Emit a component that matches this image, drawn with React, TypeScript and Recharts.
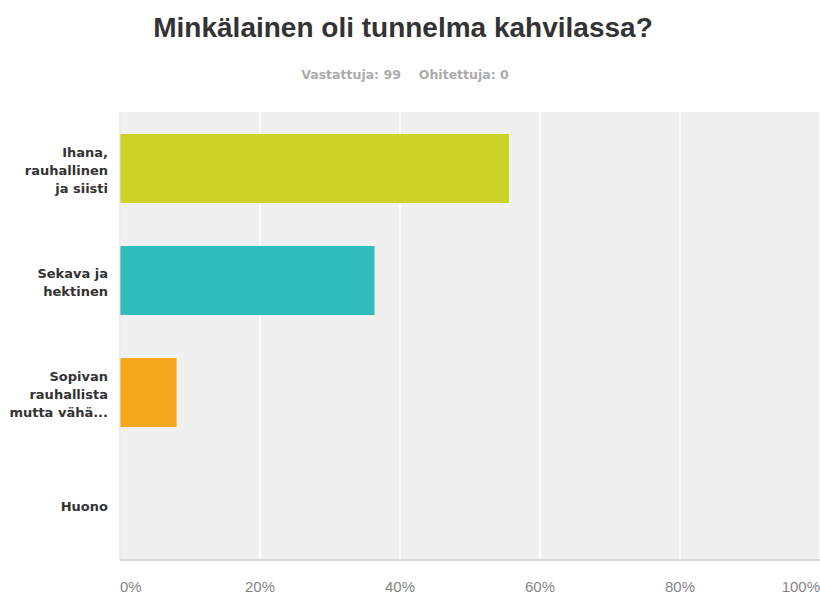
import React from "react";
import { BarChart, Bar, XAxis, YAxis, CartesianGrid, Cell } from "recharts";

const TITLE = "Minkälainen oli tunnelma kahvilassa?";
const SUB_ANSWERED = "Vastattuja: 99";
const SUB_SKIPPED = "Ohitettuja: 0";

const categories = [
  "Ihana, rauhallinen ja siisti",
  "Sekava ja hektinen",
  "Sopivan rauhallista mutta vähä...",
  "Huono",
];
const percentages = [55.56, 36.36, 8.08, 0];
const barColors = ["#cbd325", "#32bdbd", "#f6a81d", "#999999"];
const xTicks = [0, 20, 40, 60, 80, 100];

const data = categories.map((name, i) => ({ name, value: percentages[i] }));

const W = 820;
const H = 594;

function wrap(label: string, maxChars: number): string[] {
  const words = label.split(" ");
  const lines: string[] = [];
  let cur = "";
  for (const w of words) {
    const next = cur ? cur + " " + w : w;
    if (next.length > maxChars && cur) {
      lines.push(cur);
      cur = w;
    } else {
      cur = next;
    }
  }
  if (cur) lines.push(cur);
  return lines;
}

const YTick = (props: any) => {
  const { y, payload } = props;
  const lines = wrap(String(payload.value), 13);
  const lh = 18;
  const first = y - ((lines.length - 1) * lh) / 2 + 7;
  return (
    <text
      textAnchor="end"
      fontFamily="'DejaVu Sans', sans-serif"
      fontWeight="bold"
      fontSize={13}
      fill="#333333"
    >
      {lines.map((l, i) => (
        <tspan key={i} x={108} y={first + i * lh}>
          {l}
        </tspan>
      ))}
    </text>
  );
};

const XTick = (props: any) => {
  const { x, payload } = props;
  const v = payload.value;
  const anchor = v === 0 ? "start" : v === 100 ? "end" : "middle";
  return (
    <text
      x={x}
      y={592}
      textAnchor={anchor}
      fontFamily="'Liberation Sans', Arial, sans-serif"
      fontSize={15}
      fill="#858585"
    >
      {v + "%"}
    </text>
  );
};

export default function App() {
  return (
    <div style={{ position: "absolute", left: 0, top: 0, width: W, height: H, background: "#ffffff" }}>
      <BarChart
        width={W}
        height={H}
        data={data}
        layout="vertical"
        margin={{ top: 112, right: 0, bottom: 0, left: 0 }}
      >
        <CartesianGrid
          horizontal={false}
          vertical={true}
          fill="#f0f0f0"
          stroke="#fbfbfb"
          strokeWidth={2}
        />
        <XAxis
          type="number"
          domain={[0, 100]}
          ticks={xTicks}
          height={34}
          tick={<XTick />}
          tickLine={false}
          axisLine={{ stroke: "#d8d8d8", strokeWidth: 2 }}
          interval={0}
        />
        <YAxis
          type="category"
          dataKey="name"
          width={120}
          tick={<YTick />}
          tickLine={false}
          axisLine={{ stroke: "#dddddd", strokeWidth: 1 }}
          interval={0}
        />
        <Bar dataKey="value" barSize={69} isAnimationActive={false}>
          {data.map((d, i) => (
            <Cell key={d.name} fill={barColors[i]} />
          ))}
        </Bar>
      </BarChart>
      <svg
        width={W}
        height={100}
        style={{ position: "absolute", left: 0, top: 0, pointerEvents: "none" }}
      >
        <text
          x={403}
          y={37}
          textAnchor="middle"
          fontFamily="'Liberation Sans', Arial, sans-serif"
          fontWeight="bold"
          fontSize={28}
          fill="#333333"
        >
          {TITLE}
        </text>
        <text
          x={405}
          y={79}
          textAnchor="middle"
          fontFamily="'DejaVu Sans', sans-serif"
          fontWeight="bold"
          fontSize={12.5}
          fill="#ababab"
        >
          <tspan>{SUB_ANSWERED}</tspan>
          <tspan dx={18}>{SUB_SKIPPED}</tspan>
        </text>
      </svg>
    </div>
  );
}
